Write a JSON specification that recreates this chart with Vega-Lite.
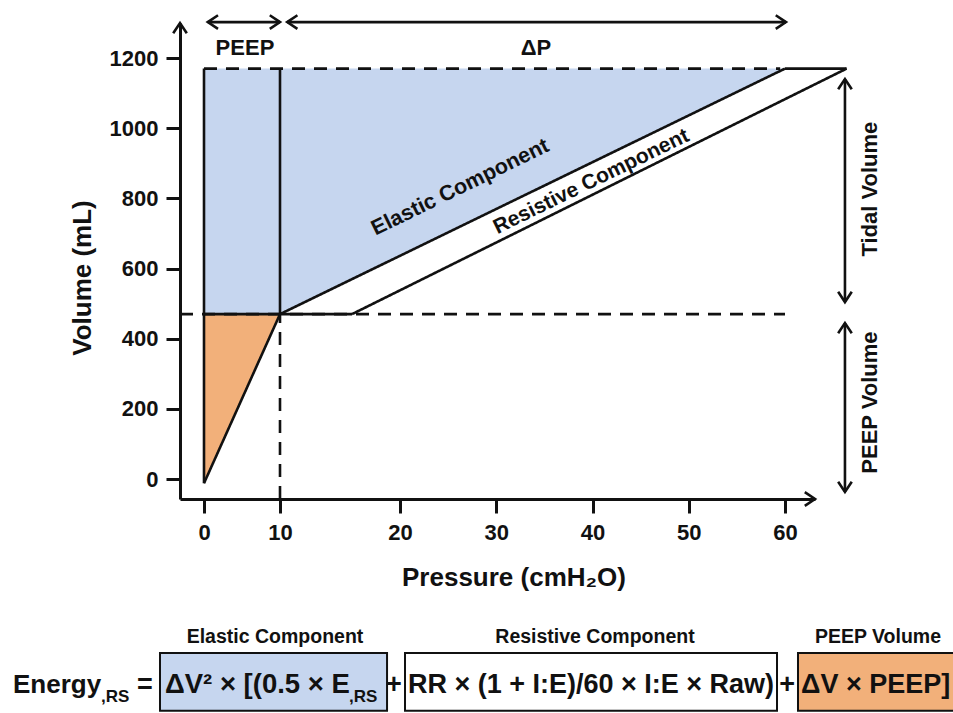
{
  "$schema": "https://vega.github.io/schema/vega-lite/v6.json",
  "width": 635,
  "height": 476,
  "autosize": "none",
  "padding": {"left": 180, "top": 23, "right": 138, "bottom": 214},
  "background": "white",
  "config": {
    "view": {"stroke": null},
    "axis": {
      "grid": false,
      "domainColor": "#111",
      "domainWidth": 3,
      "tickColor": "#111",
      "tickWidth": 3,
      "tickSize": 14,
      "labelFont": "Liberation Sans, Arial, sans-serif",
      "labelFontSize": 22,
      "labelFontWeight": "bold",
      "labelColor": "#111",
      "titleFont": "Liberation Sans, Arial, sans-serif",
      "titleFontSize": 26,
      "titleFontWeight": "bold",
      "titleColor": "#111"
    }
  },
  "datasets": {
    "areas": [
      {"region": "Elastic", "p": 0, "lo": 470, "hi": 1170},
      {"region": "Elastic", "p": 10, "lo": 470, "hi": 1170},
      {"region": "Elastic", "p": 60, "lo": 1170, "hi": 1170},
      {"region": "PEEP", "p": 0, "lo": -12, "hi": 470},
      {"region": "PEEP", "p": 10, "lo": 470, "hi": 470}
    ],
    "segments": [
      {"x": 0, "y": 1170, "x2": 59.5, "y2": 1170, "s": "dashed"},
      {"x": -3.158, "y": 470, "x2": 60, "y2": 470, "s": "dashed"},
      {"x": 10, "y": -57, "x2": 10, "y2": 470, "s": "dashed"},
      {"x": 0, "y": -12, "x2": 0, "y2": 1170, "s": "solid"},
      {"x": 10, "y": 470, "x2": 10, "y2": 1170, "s": "solid"},
      {"x": 0, "y": -12, "x2": 10, "y2": 470, "s": "solid"},
      {"x": 10, "y": 470, "x2": 60, "y2": 1170, "s": "solid"},
      {"x": 16, "y": 470, "x2": 66.4, "y2": 1170, "s": "solid"},
      {"x": 60, "y": 1170, "x2": 66.4, "y2": 1170, "s": "solid"},
      {"x": 0, "y": 470, "x2": 16, "y2": 470, "s": "solid"},
      {"x": 0.5, "y": 1302.6, "x2": 10, "y2": 1302.6, "s": "solid"},
      {"x": 10.6, "y": 1302.6, "x2": 60.1, "y2": 1302.6, "s": "solid"},
      {"x": 66.23, "y": 1140, "x2": 66.23, "y2": 504.5, "s": "solid"},
      {"x": 66.23, "y": 444.7, "x2": 66.23, "y2": -37, "s": "solid"}
    ],
    "heads": [
      {"x": -3.158, "y": 1300, "ang": 270},
      {"x": 63.117, "y": -57, "ang": 0},
      {"x": 0.5, "y": 1302.6, "ang": 180},
      {"x": 10, "y": 1302.6, "ang": 0},
      {"x": 10.6, "y": 1302.6, "ang": 180},
      {"x": 60.1, "y": 1302.6, "ang": 0},
      {"x": 66.23, "y": 1140, "ang": 270},
      {"x": 66.23, "y": 504.5, "ang": 90},
      {"x": 66.23, "y": 444.7, "ang": 270},
      {"x": 66.23, "y": -37, "ang": 90}
    ],
    "boxes": [
      {"region": "Elastic", "x": -5.79, "x2": 18.92, "y": -661, "y2": -496},
      {"region": "Resistive", "x": 20.52, "x2": 59.17, "y": -661, "y2": -496},
      {"region": "PEEP", "x": 61.35, "x2": 78, "y": -661, "y2": -496}
    ],
    "centerText": [
      {"t": "PEEP", "x": 5.39, "y": 1208.6, "a": 0, "fs": 22},
      {"t": "ΔP", "x": 34.13, "y": 1208.6, "a": 0, "fs": 22},
      {"t": "Elastic Component", "x": 26.55, "y": 815, "a": 334, "fs": 21.5},
      {"t": "Resistive Component", "x": 40.15, "y": 832, "a": 334, "fs": 21},
      {"t": "Tidal Volume", "x": 69.56, "y": 826.5, "a": 270, "fs": 22},
      {"t": "PEEP Volume", "x": 69.56, "y": 218, "a": 270, "fs": 22},
      {"t": "Elastic Component", "x": 9.34, "y": -467.5, "a": 0, "fs": 19.5},
      {"t": "Resistive Component", "x": 40.26, "y": -467.5, "a": 0, "fs": 19.5},
      {"t": "PEEP Volume", "x": 69.66, "y": -467.5, "a": 0, "fs": 19.5},
      {"t": "+", "x": 19.5, "y": -610, "a": 0, "fs": 27},
      {"t": "+", "x": 60.21, "y": -610, "a": 0, "fs": 27}
    ],
    "leftText": [
      {"t": "Energy", "x": -25.13, "y": -610, "fs": 26},
      {"t": ",RS", "x": -13.55, "y": -635.6, "fs": 17},
      {"t": "=", "x": -8.82, "y": -610, "fs": 27},
      {"t": "ΔV² × [(0.5 × E", "x": -5.13, "y": -610, "fs": 27.5},
      {"t": ",RS", "x": 15.75, "y": -635.6, "fs": 17},
      {"t": "RR × (1 + I:E)/60 × I:E × Raw)", "x": 20.83, "y": -610, "fs": 27},
      {"t": "ΔV × PEEP]", "x": 61.66, "y": -610, "fs": 27}
    ]
  },
  "layer": [
    {
      "data": {"name": "areas"},
      "mark": {"type": "area", "opacity": 1},
      "encoding": {
        "x": {
          "field": "p", "type": "quantitative",
          "scale": {"domain": [-3.158, 0, 10, 20, 60, 63.117], "range": [0, 24, 100, 220, 605, 635], "nice": false, "zero": false},
          "axis": {"values": [0, 10, 20, 30, 40, 50, 60], "format": "d", "title": "Pressure (cmH₂O)", "labelPadding": 9, "titleX": 333.5, "titleY": 86, "titleBaseline": "alphabetic", "titleAlign": "center"}
        },
        "y": {
          "field": "lo", "type": "quantitative", "stack": null,
          "scale": {"domain": [-57, 1300], "nice": false, "zero": false},
          "axis": {"values": [0, 200, 400, 600, 800, 1000, 1200], "format": "d", "title": "Volume (mL)", "labelPadding": 8, "titleX": -90, "titleY": 254.5, "titleBaseline": "alphabetic", "titleAlign": "center", "titleAngle": 270}
        },
        "y2": {"field": "hi"},
        "color": {"field": "region", "type": "nominal", "scale": {"domain": ["Elastic", "Resistive", "PEEP"], "range": ["#c6d6ef", "#ffffff", "#f2b07a"]}, "legend": null},
        "detail": {"field": "region"}
      }
    },
    {
      "data": {"name": "boxes"},
      "mark": {"type": "rect", "stroke": "#111", "strokeWidth": 2, "opacity": 1},
      "encoding": {
        "x": {"field": "x", "type": "quantitative"},
        "x2": {"field": "x2"},
        "y": {"field": "y", "type": "quantitative"},
        "y2": {"field": "y2"},
        "color": {"field": "region", "type": "nominal", "legend": null}
      }
    },
    {
      "data": {"name": "segments"},
      "mark": {"type": "rule", "color": "#111", "strokeWidth": 2.6},
      "encoding": {
        "x": {"field": "x", "type": "quantitative"},
        "y": {"field": "y", "type": "quantitative"},
        "x2": {"field": "x2"},
        "y2": {"field": "y2"},
        "strokeDash": {"field": "s", "type": "nominal", "scale": {"domain": ["solid", "dashed"], "range": [[1, 0], [13, 9]]}, "legend": null}
      }
    },
    {
      "data": {"name": "heads"},
      "mark": {"type": "point", "shape": "M-1.5,-1L0,0L-1.5,1", "filled": false, "stroke": "#111", "strokeWidth": 2.6, "opacity": 1, "size": 185, "strokeJoin": "miter"},
      "encoding": {
        "x": {"field": "x", "type": "quantitative"},
        "y": {"field": "y", "type": "quantitative"},
        "angle": {"field": "ang", "type": "quantitative", "scale": null}
      }
    },
    {
      "data": {"name": "centerText"},
      "mark": {"type": "text", "align": "center", "baseline": "alphabetic", "fontWeight": "bold", "color": "#111", "font": "Liberation Sans, Arial, sans-serif"},
      "encoding": {
        "x": {"field": "x", "type": "quantitative"},
        "y": {"field": "y", "type": "quantitative"},
        "text": {"field": "t"},
        "angle": {"field": "a", "type": "quantitative", "scale": null},
        "size": {"field": "fs", "type": "quantitative", "scale": null}
      }
    },
    {
      "data": {"name": "leftText"},
      "mark": {"type": "text", "align": "left", "baseline": "alphabetic", "fontWeight": "bold", "color": "#111", "font": "Liberation Sans, Arial, sans-serif"},
      "encoding": {
        "x": {"field": "x", "type": "quantitative"},
        "y": {"field": "y", "type": "quantitative"},
        "text": {"field": "t"},
        "size": {"field": "fs", "type": "quantitative", "scale": null}
      }
    }
  ]
}
